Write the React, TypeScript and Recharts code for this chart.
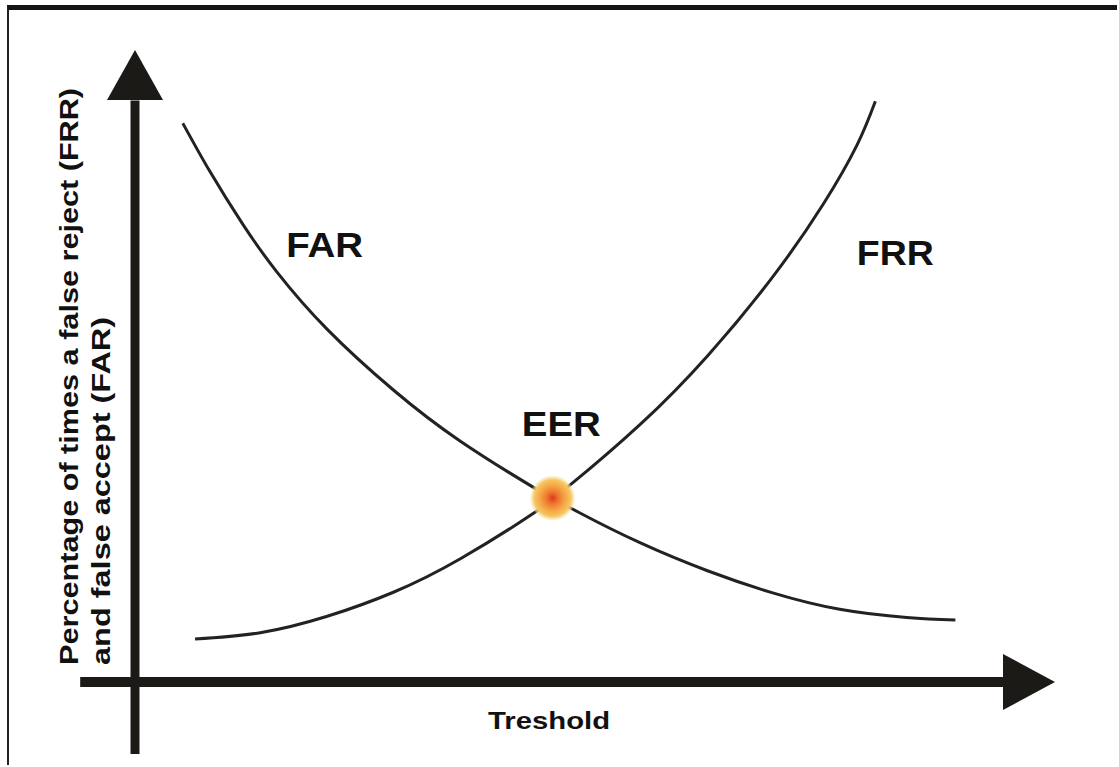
import React from 'react';
import { LineChart, Line, XAxis, YAxis, ReferenceLine, ReferenceDot } from 'recharts';

// FAR / FRR curves (threshold 0-100, rate 0-100)
const farThreshold = [5.5, 8.6, 12.4, 16.3, 22.1, 29.7, 37.4, 45.8, 48.0, 51.2, 58.1, 65.8, 73.3, 81.0, 88.7, 94.3];
const farRate = [88.4, 80.8, 72.4, 64.9, 55.8, 46.2, 38.1, 30.8, 29.1, 26.7, 22.0, 17.6, 14.1, 11.5, 10.2, 9.8];
const frrThreshold = [6.9, 14.4, 22.1, 29.7, 37.4, 45.8, 48.0, 50.3, 58.1, 65.8, 73.3, 79.1, 83.0, 85.1];
const frrRate = [6.8, 7.8, 10.4, 14.2, 19.5, 26.7, 29.0, 31.5, 40.8, 51.6, 64.1, 75.6, 85.0, 91.9];
const eer = { t: 48.0, v: 29.1 };

const xLabel = 'Treshold';
const yLabelLines = ['Percentage of times a false reject (FRR)', 'and false accept (FAR)'];

const farData = farThreshold.map((t, i) => ({ t, v: farRate[i] }));
const frrData = frrThreshold.map((t, i) => ({ t, v: frrRate[i] }));

const INK = '#1c1a17';
const FONT = '"Liberation Sans", Arial, sans-serif';

const Label = ({ cx, cy, text, size, len, rotate }: any) => (
  <text
    x={cx}
    y={cy}
    fontFamily={FONT}
    fontWeight="bold"
    fontSize={size}
    fill="#111"
    textAnchor={rotate ? 'start' : 'middle'}
    textLength={len}
    lengthAdjust="spacingAndGlyphs"
    transform={rotate ? `rotate(-90, ${cx}, ${cy})` : undefined}
  >
    {text}
  </text>
);

const EerDot = ({ cx, cy }: any) => (
  <g>
    <defs>
      <radialGradient id="eerGlow">
        <stop offset="0%" stopColor="#de3818" />
        <stop offset="25%" stopColor="#ee7432" />
        <stop offset="55%" stopColor="#f4a744" />
        <stop offset="80%" stopColor="#f6c662" />
        <stop offset="92%" stopColor="#f9dc98" stopOpacity={0.6} />
        <stop offset="100%" stopColor="#fbe8c0" stopOpacity={0} />
      </radialGradient>
    </defs>
    <circle cx={cx} cy={cy} r={23} fill="url(#eerGlow)" />
  </g>
);

export default function App() {
  return (
    <div style={{ position: 'absolute', left: 0, top: 0, width: 1119, height: 767, background: '#fff' }}>
      <div
        style={{
          position: 'absolute',
          left: 7,
          top: 5,
          width: 1110,
          height: 760,
          borderTop: '5px solid #141414',
          borderLeft: '2px solid #222',
          boxSizing: 'border-box',
        }}
      />
      <LineChart
        width={1119}
        height={767}
        margin={{ top: 50, right: 114, bottom: 85, left: 135 }}
        style={{ position: 'absolute', left: 0, top: 0 }}
      >
        <XAxis dataKey="t" type="number" domain={[0, 100]} allowDataOverflow hide />
        <YAxis type="number" domain={[0, 100]} allowDataOverflow hide />

        {/* axes with arrows */}
        <ReferenceLine segment={[{ x: -6.3, y: 0 }, { x: 100, y: 0 }]} stroke={INK} strokeWidth={10} ifOverflow="visible" />
        <ReferenceLine segment={[{ x: 0, y: -11.4 }, { x: 0, y: 92 }]} stroke={INK} strokeWidth={9} ifOverflow="visible" />
        <ReferenceDot
          x={100}
          y={0}
          ifOverflow="visible"
          shape={({ cx, cy }: any) => (
            <polygon points={`${cx - 2},${cy - 28} ${cx + 50},${cy} ${cx - 2},${cy + 28}`} fill={INK} />
          )}
        />
        <ReferenceDot
          x={0}
          y={100}
          ifOverflow="visible"
          shape={({ cx, cy }: any) => (
            <polygon points={`${cx - 28},${cy + 50} ${cx},${cy} ${cx + 28},${cy + 50}`} fill={INK} />
          )}
        />

        <Line data={farData} dataKey="v" type="natural" stroke="#222" strokeWidth={3} dot={false} isAnimationActive={false} />
        <Line data={frrData} dataKey="v" type="natural" stroke="#222" strokeWidth={3} dot={false} isAnimationActive={false} />

        <ReferenceDot x={eer.t} y={eer.v} ifOverflow="visible" shape={(p: any) => <EerDot {...p} />} />

        {/* annotations */}
        <ReferenceDot x={21.8} y={67.2} ifOverflow="visible" shape={(p: any) => <Label {...p} text="FAR" size={35} len={77} />} />
        <ReferenceDot x={87.4} y={66.0} ifOverflow="visible" shape={(p: any) => <Label {...p} text="FRR" size={35} len={77} />} />
        <ReferenceDot x={49.0} y={39.0} ifOverflow="visible" shape={(p: any) => <Label {...p} text="EER" size={35} len={79} />} />
        <ReferenceDot x={47.6} y={-7.4} ifOverflow="visible" shape={(p: any) => <Label {...p} text={xLabel} size={24} len={122} />} />
        <ReferenceDot x={-6.6} y={2.7} ifOverflow="visible" shape={(p: any) => <Label {...p} text={yLabelLines[0]} size={26} len={577} rotate />} />
        <ReferenceDot x={-2.85} y={2.7} ifOverflow="visible" shape={(p: any) => <Label {...p} text={yLabelLines[1]} size={26} len={348} rotate />} />
      </LineChart>
    </div>
  );
}
